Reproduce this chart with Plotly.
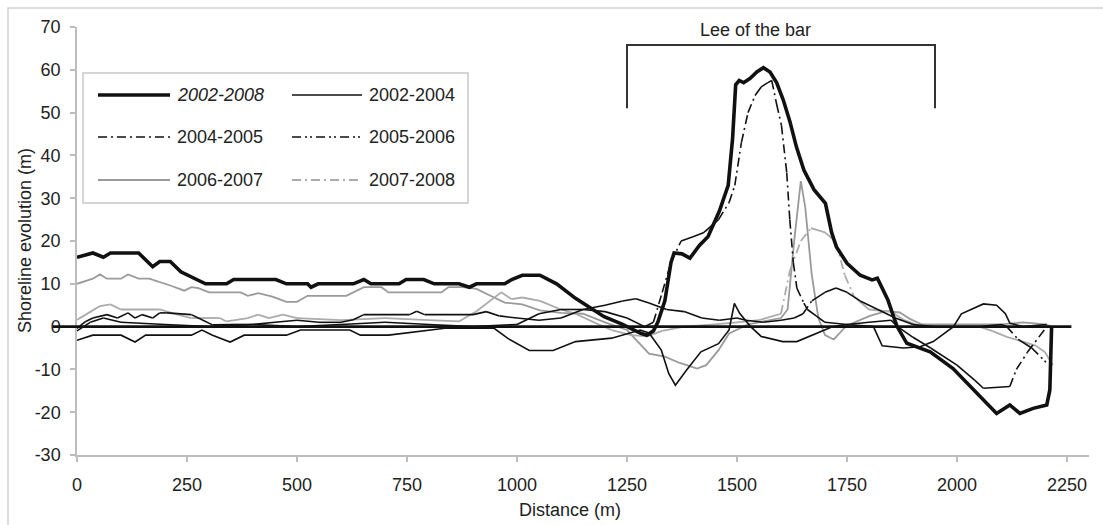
import plotly.graph_objects as go

# ---------------- data ----------------
x_2002_2008 = [0, 36, 60, 76, 140, 172, 188, 212, 236, 292, 340, 356, 452, 476, 524, 532, 548, 628, 652, 668, 732, 748, 788, 812, 868, 892, 908, 972, 988, 1012, 1052, 1090, 1133, 1165, 1198, 1240, 1280, 1295, 1310, 1320, 1336, 1350, 1357, 1375, 1393, 1415, 1434, 1460, 1480, 1490, 1497, 1505, 1515, 1530, 1545, 1560, 1575, 1590, 1605, 1620, 1635, 1652, 1675, 1701, 1715, 1726, 1750, 1780, 1807, 1819, 1843, 1856, 1864, 1886, 1939, 1991, 2045, 2090, 2120, 2143, 2173, 2204, 2211, 2215]
y_2002_2008 = [16.2, 17.2, 16.2, 17.2, 17.2, 14, 15.2, 15.2, 12.8, 10, 10, 11, 11, 10, 10, 9.2, 10, 10, 11, 10, 10, 11, 11, 10, 10, 9.2, 10, 10, 11, 12, 12, 10, 6.6, 4.5, 2.3, 0.5, -1.5, -2, -1, 1, 6, 15, 17.2, 17, 16, 19, 21, 27, 33, 44, 56.5, 57.5, 57, 58, 59.5, 60.5, 59.5, 57, 53, 48, 42, 36.6, 32, 28.8, 22, 18.6, 14.8, 12, 10.9, 11.3, 6.2, 2.3, 0, -3.9, -5.9, -9.8, -15.6, -20.3, -18.3, -20.3, -19.1, -18.3, -14.8, 0]

x_2002_2004 = [0, 36, 100, 132, 156, 260, 284, 308, 348, 380, 476, 508, 620, 644, 708, 836, 948, 980, 1028, 1082, 1133, 1215, 1280, 1300, 1328, 1345, 1360, 1385, 1418, 1458, 1482, 1494, 1506, 1531, 1555, 1604, 1636, 1685, 1718, 1750, 1800, 1810, 1830, 1878, 1916, 1946, 1992, 2010, 2060, 2090, 2110, 2120, 2150, 2204]
y_2002_2004 = [-3.2, -2, -2, -3.6, -2, -2, -0.8, -2, -3.6, -2, -2, -0.8, -0.8, -2, -2, -0.4, -0.4, -2.8, -5.6, -5.6, -3.5, -2.7, -0.8, -1.5, -5.5, -11, -13.7, -10.2, -5.9, -4, -0.8, 5.4, 3.1, 0, -2.3, -3.5, -3.5, -1.5, 0, 0.5, 0, 0, -4.5, -5, -4.7, -3.5, 0, 3, 5.3, 5, 3, 0.8, 0, 0.5]

x_2004_2005 = [0, 30, 60, 100, 200, 300, 400, 500, 600, 700, 800, 900, 1000, 1050, 1100, 1150, 1200, 1250, 1290, 1310, 1330, 1350, 1373, 1400, 1425, 1458, 1482, 1495, 1510, 1525, 1541, 1555, 1570, 1579, 1590, 1601, 1613, 1620, 1628, 1636, 1652, 1660, 1680, 1700, 1750, 1800, 1850, 1865, 1900, 1940, 2000, 2040, 2060, 2120, 2135, 2160, 2204]
y_2004_2005 = [-1, 1, 2, 1, 0.5, 0, 0.5, 0, 0.5, 1, 0.5, 0, 0.5, 3, 4, 4, 3.5, 2, 0, 1, 8, 15, 20, 21, 22, 25, 29, 33, 43, 50, 54, 56, 57, 57.5, 52, 47, 36, 25, 15, 9, 5.5, 4, 2.5, 1, 0.5, 1, 1.5, 0, -2.5, -5, -9, -12.5, -14.4, -14, -10, -6, 0]

x_2005_2006 = [0, 20, 36, 68, 92, 116, 132, 148, 172, 188, 204, 260, 284, 308, 350, 400, 450, 500, 550, 600, 628, 652, 756, 772, 790, 900, 930, 960, 1000, 1050, 1100, 1150, 1200, 1240, 1270, 1300, 1340, 1380, 1420, 1460, 1500, 1520, 1560, 1600, 1630, 1650, 1670, 1700, 1725, 1750, 1780, 1820, 1860, 1900, 1950, 2000, 2050, 2100, 2113, 2139, 2170, 2204]
y_2005_2006 = [-0.4, 1.2, 2, 2.8, 2, 3.2, 2, 2.8, 2, 3.2, 3.2, 2.8, 1.6, 0.4, 0.5, 0.5, 1, 1.5, 1, 1, 1.6, 2.8, 2.8, 3.6, 2.8, 2.8, 3.5, 2.5, 2, 1.5, 2, 4, 5, 6, 6.5, 5.5, 4, 3.5, 2, 1.5, 2, 1.5, 1, 1.5, 2, 3, 6, 8, 9, 8, 6, 4, 2, 0.5, 0, 0, 0, 0.5, 0, -3, -5, -8.5]

x_2006_2007 = [0, 36, 52, 68, 100, 116, 140, 164, 212, 244, 260, 276, 300, 372, 388, 412, 444, 476, 500, 524, 612, 652, 692, 708, 828, 844, 876, 908, 948, 972, 1012, 1052, 1100, 1150, 1200, 1250, 1300, 1336, 1370, 1409, 1430, 1458, 1482, 1525, 1575, 1600, 1615, 1630, 1645, 1655, 1670, 1685, 1700, 1720, 1749, 1802, 1839, 1870, 1893, 1920, 2000, 2100, 2150, 2200, 2215]
y_2006_2007 = [10, 11.2, 12.2, 11.2, 11.2, 12.2, 11.2, 11.2, 9.6, 8.4, 9.2, 9, 8, 8, 7.2, 7.8, 7, 5.8, 5.8, 7.2, 7.2, 9.2, 9.2, 8, 8, 9.2, 9.2, 8.8, 6.8, 5.6, 5.2, 3.8, 3.2, 3, 1, -0.8, -6.3, -7, -8.5, -9.8, -9, -5.5, -1.6, 0.5, 1.5, 2, 4, 20, 34, 28, 12, 2, -2, -3, 0.2, 2.5, 3.6, 3.3, 1.8, 0.5, 0.5, 0.5, 1, 0.5, 0]

x_2007_2008 = [0, 20, 52, 76, 100, 188, 228, 260, 324, 340, 388, 412, 436, 468, 500, 600, 700, 800, 868, 908, 964, 988, 1012, 1052, 1100, 1133, 1175, 1215, 1260, 1296, 1330, 1380, 1450, 1500, 1550, 1600, 1620, 1645, 1668, 1700, 1725, 1745, 1766, 1800, 1850, 1880, 1920, 2000, 2050, 2080, 2113, 2150, 2180, 2200, 2218]
y_2007_2008 = [1.6, 2.8, 4.8, 5.2, 4, 4, 2.8, 2, 2, 1.2, 2, 2.8, 2, 2.8, 2, 1.5, 2, 1.5, 1.2, 3.6, 8, 6.4, 6.8, 6, 4, 3, 1, -0.8, -2, -2.3, -1, 0, 0.5, 1, 1.5, 3, 13, 20, 23, 22, 19.8, 12, 7, 4, 3.5, 1.5, 0, 0, 0, -1, -2.4, -3.5, -4.5, -6, -9]

series_names = ["2002-2008", "2002-2004", "2004-2005", "2005-2006", "2006-2007", "2007-2008"]
x_ticks = [0, 250, 500, 750, 1000, 1250, 1500, 1750, 2000, 2250]
y_ticks = [-30, -20, -10, 0, 10, 20, 30, 40, 50, 60, 70]
bracket_x = [1250, 1250, 1950, 1950]
bracket_y = [51, 65.8, 65.8, 51]

# ---------------- styles ----------------
BLACK = "#111111"
GRAY1 = "#9a9a9a"
GRAY2 = "#ababab"
DASH_DD = "9px,4px,2px,4px"
DASH_DDD = "9px,4px,2px,3px,2px,4px"
styles = [
    dict(color=BLACK, width=3.6, dash="solid"),
    dict(color=BLACK, width=1.6, dash="solid"),
    dict(color=BLACK, width=1.6, dash=DASH_DD),
    dict(color=BLACK, width=1.6, dash=DASH_DDD),
    dict(color=GRAY1, width=1.8, dash="solid"),
    dict(color=GRAY2, width=1.8, dash=DASH_DD),
]
xs = [x_2002_2008, x_2002_2004, x_2004_2005, x_2005_2006, x_2006_2007, x_2007_2008]
ys = [y_2002_2008, y_2002_2004, y_2004_2005, y_2005_2006, y_2006_2007, y_2007_2008]

W, H = 1103, 525
ML, MR, MT, MB = 77, 14, 27, 70
PW, PH = W - ML - MR, H - MT - MB
Y_PX_PER_UNIT = PH / 100.0
X_PX_PER_UNIT = PW / 2300.0


def px(p):
    return (p - ML) / PW


def py(p):
    return (H - MB - p) / PH


def split_segments(x, y, thresh_px=10):
    """Dash pattern visible only on long steep segments (the original's dash
    pattern restarts at each vertex, so dense flat parts look solid)."""
    sx, sy, dx, dy = [], [], [], []
    for i in range(len(x) - 1):
        vy = abs(y[i + 1] - y[i]) * Y_PX_PER_UNIT
        vx = abs(x[i + 1] - x[i]) * X_PX_PER_UNIT
        if vy > thresh_px and vy > vx:
            dx += [x[i], x[i + 1], None]
            dy += [y[i], y[i + 1], None]
        else:
            sx += [x[i], x[i + 1], None]
            sy += [y[i], y[i + 1], None]
    return sx, sy, dx, dy


fig = go.Figure()
order = [4, 5, 1, 2, 3, 0]
for i in order:
    st = styles[i]
    if st["dash"] == "solid":
        fig.add_trace(go.Scatter(x=xs[i], y=ys[i], mode="lines", name=series_names[i],
                                 line=st, showlegend=False, hoverinfo="skip"))
    else:
        sx, sy, dx, dy = split_segments(xs[i], ys[i])
        fig.add_trace(go.Scatter(x=sx, y=sy, mode="lines", name=series_names[i],
                                 line=dict(color=st["color"], width=st["width"], dash="solid"),
                                 showlegend=False, hoverinfo="skip", connectgaps=False))
        fig.add_trace(go.Scatter(x=dx, y=dy, mode="lines", name=series_names[i],
                                 line=st, showlegend=False, hoverinfo="skip", connectgaps=False))

fig.add_trace(go.Scatter(x=bracket_x, y=bracket_y, mode="lines",
                         line=dict(color="#333333", width=2), showlegend=False, hoverinfo="skip"))

FONT = "Liberation Sans, Arial, sans-serif"
TXT = "#222222"
AX = "#bdbdbd"

shapes = []
annotations = []
shapes.append(dict(type="rect", xref="paper", yref="paper", x0=px(8), x1=px(1120), y0=py(540), y1=py(8),
                   line=dict(color="#d2d2d2", width=1.5), layer="below"))
zero_py = H - MB - 30 * Y_PX_PER_UNIT
shapes.append(dict(type="line", xref="paper", yref="paper", x0=px(53), x1=px(ML + 2260 * X_PX_PER_UNIT),
                   y0=py(zero_py), y1=py(zero_py),
                   line=dict(color=BLACK, width=2.6), layer="above"))

shapes.append(dict(type="rect", xref="paper", yref="paper", x0=px(83), x1=px(468), y0=py(203), y1=py(73),
                   line=dict(color="#c8c8c8", width=1.5), fillcolor="white", layer="above"))
rows = [95, 137, 180]
cols = [(98, 170, 175), (292, 362, 367)]
for k, name in enumerate(series_names):
    r, c = k // 2, k % 2
    x0, x1, tx = cols[c]
    st = styles[k]
    shapes.append(dict(type="line", xref="paper", yref="paper", x0=px(x0), x1=px(x1),
                       y0=py(rows[r]), y1=py(rows[r]),
                       line=dict(color=st["color"], width=st["width"], dash=st["dash"]), layer="above"))
    label = "<i>%s</i>" % name if k == 0 else name
    annotations.append(dict(text=label, xref="paper", yref="paper", x=px(tx), y=py(rows[r]),
                            xanchor="left", yanchor="middle", showarrow=False,
                            font=dict(size=18, color=TXT, family=FONT)))

annotations.append(dict(text="Lee of the bar", xref="paper", yref="paper", x=px(755), y=py(30),
                        xanchor="center", yanchor="middle", showarrow=False,
                        font=dict(size=18, color=TXT, family=FONT)))
annotations.append(dict(text="Distance (m)", xref="paper", yref="paper", x=px(570), y=py(510),
                        xanchor="center", yanchor="middle", showarrow=False,
                        font=dict(size=18, color=TXT, family=FONT)))
annotations.append(dict(text="Shoreline evolution (m)", xref="paper", yref="paper", x=px(25), y=py(241),
                        xanchor="center", yanchor="middle", showarrow=False, textangle=-90,
                        font=dict(size=18, color=TXT, family=FONT)))

fig.update_layout(
    width=W, height=H,
    margin=dict(l=ML, r=MR, t=MT, b=MB, pad=0),
    paper_bgcolor="white", plot_bgcolor="white",
    shapes=shapes, annotations=annotations,
    font=dict(family=FONT, size=18, color=TXT),
    xaxis=dict(range=[0, 2300], tickvals=x_ticks, ticktext=[str(v) for v in x_ticks],
               showgrid=False, zeroline=False, showline=True, linecolor=AX, linewidth=1.5,
               ticks="outside", ticklen=5, tickcolor=AX, tickwidth=1.5,
               tickfont=dict(size=18, color=TXT, family=FONT), ticklabelstandoff=8),
    yaxis=dict(range=[-30, 70], tickvals=y_ticks, ticktext=[str(v) for v in y_ticks],
               showgrid=False, zeroline=False, showline=True, linecolor=AX, linewidth=1.5,
               ticks="outside", ticklen=5, tickcolor=AX, tickwidth=1.5,
               tickfont=dict(size=18, color=TXT, family=FONT), ticklabelstandoff=6),
)

fig.write_html("out.html")
